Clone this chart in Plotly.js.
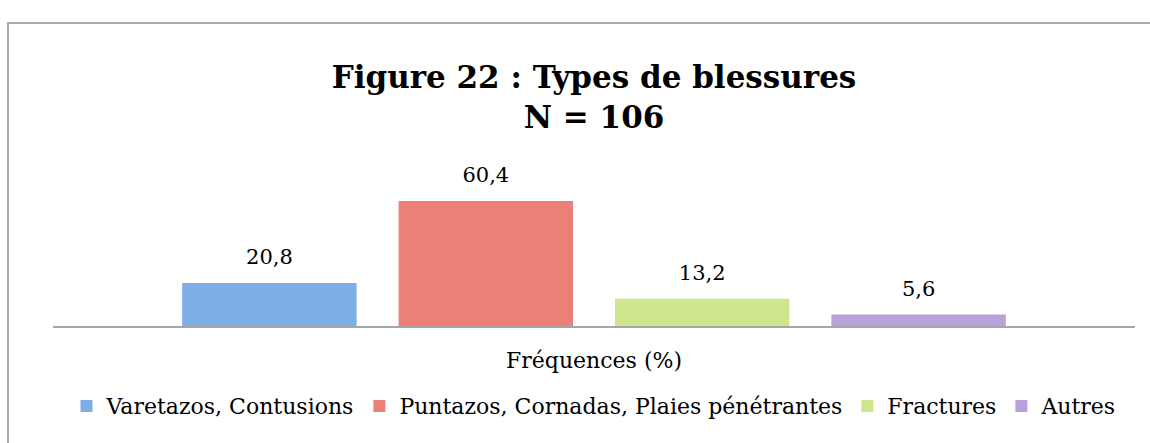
<!DOCTYPE html>
<html>
<head>
<meta charset="utf-8">
<script src="https://cdn.plot.ly/plotly-3.0.1.min.js"></script>
<style>
  html, body { margin: 0; padding: 0; background: #fff; overflow: hidden; }
  #frame { position: absolute; left: 7px; top: 22px; width: 1300px; height: 600px; border: 2px solid #aaaaaa; box-sizing: border-box; }
  #chart { position: absolute; left: 0; top: 0; width: 1150px; height: 443px; }
</style>
</head>
<body>
<div id="frame"></div>
<div id="chart"></div>
<script>
// Data
const category = ["Fréquences (%)"];
const seriesNames = ["Varetazos, Contusions", "Puntazos, Cornadas, Plaies pénétrantes", "Fractures", "Autres"];
const seriesValues = [20.8, 60.4, 13.2, 5.6];
const seriesColors = ["#7eaee6", "#ec7f77", "#cde68c", "#b9a0da"];

const FONT = "'DejaVu Serif', 'Liberation Serif', serif";

const traces = [];
seriesNames.forEach((name, i) => {
  traces.push({
    type: "bar",
    name: name,
    x: category,
    y: [seriesValues[i]],
    offsetgroup: "g" + i,
    marker: { color: seriesColors[i], line: { width: 0 } },
    hoverinfo: "skip"
  });
});
seriesNames.forEach((name, i) => {
  traces.push({
    type: "scatter",
    mode: "markers+text",
    x: category,
    y: [seriesValues[i]],
    offsetgroup: "g" + i,
    text: [seriesValues[i].toFixed(1).replace(".", ",")],
    textposition: "top center",
    textfont: { family: FONT, size: 21, color: "#000" },
    marker: { size: 20, opacity: 0 },
    showlegend: false,
    hoverinfo: "skip",
    cliponaxis: false
  });
});

const layout = {
  width: 1150,
  height: 443,
  paper_bgcolor: "rgba(0,0,0,0)",
  plot_bgcolor: "rgba(0,0,0,0)",
  margin: { l: 53, r: 15, t: 150, b: 117 },
  barmode: "group",
  bargap: 0.2,
  bargroupgap: 0.194,
  scattermode: "group",
  scattergap: 0.2,
  separators: ", ",
  font: { family: FONT, color: "#000" },
  title: {
    text: "<b>Figure 22 : Types de blessures<br>N = 106</b>",
    font: { family: FONT, size: 31, color: "#000" },
    x: 0.5, xanchor: "center",
    xref: "paper",
    yref: "container", y: 1 - 88 / 443, yanchor: "middle"
  },
  xaxis: {
    type: "category",
    showline: true, linecolor: "#a6a6a6", linewidth: 2,
    showgrid: false, zeroline: false, ticks: "",
    tickfont: { family: FONT, size: 22, color: "#000" },
    ticklabelstandoff: 14
  },
  yaxis: {
    range: [0, 85],
    visible: false,
    showgrid: false, zeroline: false
  },
  showlegend: true,
  legend: {
    orientation: "h",
    x: 0.5, xanchor: "center",
    y: -0.455, yanchor: "middle",
    font: { family: FONT, size: 22, color: "#000" },
    itemwidth: 30,
    traceorder: "normal"
  }
};

Plotly.newPlot("chart", traces, layout, { displayModeBar: false, staticPlot: true });
</script>
</body>
</html>
